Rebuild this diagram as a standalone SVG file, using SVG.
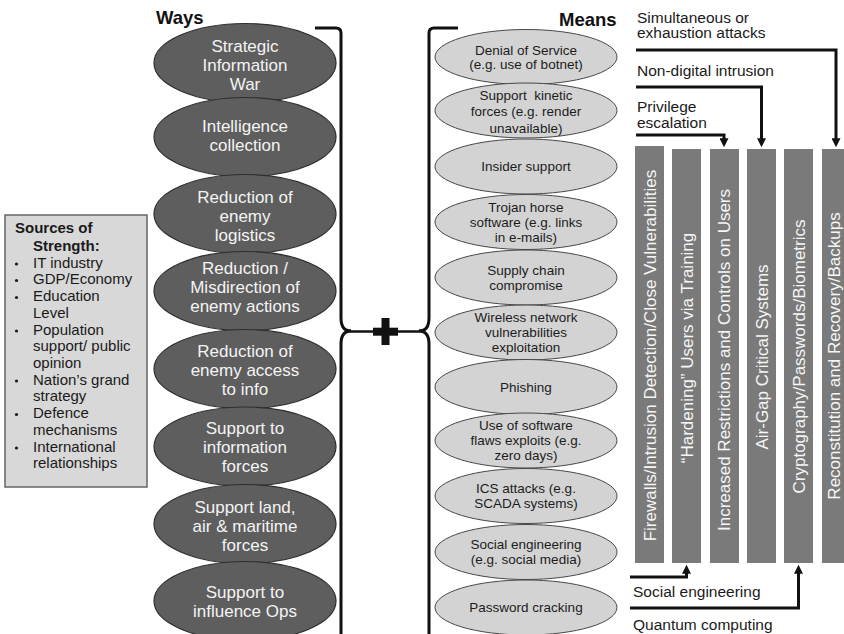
<svg xmlns="http://www.w3.org/2000/svg" width="844" height="634" viewBox="0 0 844 634">
<style>
text{font-family:'Liberation Sans',Arial,Helvetica,sans-serif}
.ttl{font-size:18.5px;font-weight:bold;fill:#111}
.way ellipse{fill:#5e5e5e;stroke:#2e2e2e;stroke-width:1.2}
.way text{font-size:17px;fill:#f4f4f4;text-anchor:middle}
.mean ellipse{fill:#d3d3d3;stroke:#484848;stroke-width:1}
.mean text{font-size:13.5px;fill:#1c1c1c;text-anchor:middle}
.bar rect{fill:#7a7a7a}
.bar text{font-size:17px;fill:#f6f6f6;text-anchor:middle}
.lbl{font-size:15.5px;fill:#1a1a1a}
.src text{font-size:15px;fill:#1a1a1a}
.brace{fill:none;stroke:#111;stroke-width:3}
.arr{fill:none;stroke:#111;stroke-width:3;marker-end:url(#ah)}
</style>
<defs>
<marker id="ah" viewBox="0 0 10 10" refX="2" refY="5" markerWidth="9" markerHeight="9" markerUnits="userSpaceOnUse" orient="auto"><path d="M0,0 L10,5 L0,10 z" fill="#111"/></marker>
</defs>
<rect width="844" height="634" fill="#fff"/>

<text class="ttl" x="156" y="24">Ways</text>
<text class="ttl" x="559" y="26">Means</text>

<g id="sources" class="src">
<rect x="5" y="215" width="142" height="272" fill="#d8d8d8" stroke="#666" stroke-width="1.5"/>
<text x="15" y="233" font-weight="bold">Sources of</text>
<text x="33" y="251" font-weight="bold">Strength:</text>
<g fill="#1a1a1a">
<circle cx="16.5" cy="264" r="1.6"/>
<circle cx="16.5" cy="280.5" r="1.6"/>
<circle cx="16.5" cy="297.5" r="1.6"/>
<circle cx="16.5" cy="331" r="1.6"/>
<circle cx="16.5" cy="381" r="1.6"/>
<circle cx="16.5" cy="414.5" r="1.6"/>
<circle cx="16.5" cy="448" r="1.6"/>
</g>
<text x="33" y="267.7">IT industry</text>
<text x="33" y="284.4">GDP/Economy</text>
<text x="33" y="301.1">Education</text>
<text x="33" y="317.8">Level</text>
<text x="33" y="334.6">Population</text>
<text x="33" y="351.3">support/ public</text>
<text x="33" y="368">opinion</text>
<text x="33" y="384.7">Nation’s grand</text>
<text x="33" y="401.4">strategy</text>
<text x="33" y="418.2">Defence</text>
<text x="33" y="434.9">mechanisms</text>
<text x="33" y="451.6">International</text>
<text x="33" y="468.3">relationships</text>
</g>

<g id="way1" class="way"><ellipse cx="245" cy="63" rx="91" ry="39.5"/><text x="245" y="52">Strategic<tspan x="245" dy="19">Information</tspan><tspan x="245" dy="19">War</tspan></text></g>
<g id="way2" class="way"><ellipse cx="245" cy="137" rx="91" ry="39.5"/><text x="245" y="131.5">Intelligence<tspan x="245" dy="19">collection</tspan></text></g>
<g id="way3" class="way"><ellipse cx="245" cy="214" rx="91" ry="39.5"/><text x="245" y="203">Reduction of<tspan x="245" dy="19">enemy</tspan><tspan x="245" dy="19">logistics</tspan></text></g>
<g id="way4" class="way"><ellipse cx="245" cy="291" rx="91" ry="39.5"/><text x="245" y="274">Reduction /<tspan x="245" dy="19">Misdirection of</tspan><tspan x="245" dy="19">enemy actions</tspan></text></g>
<g id="way5" class="way"><ellipse cx="245" cy="369" rx="91" ry="39.5"/><text x="245" y="357">Reduction of<tspan x="245" dy="19">enemy access</tspan><tspan x="245" dy="19">to info</tspan></text></g>
<g id="way6" class="way"><ellipse cx="245" cy="446.5" rx="91" ry="39.5"/><text x="245" y="434">Support to<tspan x="245" dy="19">information</tspan><tspan x="245" dy="19">forces</tspan></text></g>
<g id="way7" class="way"><ellipse cx="245" cy="524" rx="91" ry="39.5"/><text x="245" y="513">Support land,<tspan x="245" dy="19">air &amp; maritime</tspan><tspan x="245" dy="19">forces</tspan></text></g>
<g id="way8" class="way"><ellipse cx="245" cy="601" rx="91" ry="39.5"/><text x="245" y="597.5">Support to<tspan x="245" dy="19">influence Ops</tspan></text></g>

<g id="connectors">
<path class="brace" d="M315,28 H336 Q341,28 341,33 V318 Q341,331 351,331"/>
<path class="brace" d="M351,331 Q341,331 341,344 V640"/>
<path class="brace" d="M458,28 H434 Q429,28 429,33 V318 Q429,331 419,331"/>
<path class="brace" d="M419,331 Q429,331 429,344 V640"/>
<path d="M351,331.5 H419" stroke="#111" stroke-width="2.5" fill="none"/>
<path class="arr" d="M636,135 H724 V140"/>
<path class="arr" d="M636,87 H761.5 V140"/>
<path class="arr" d="M636,50 H836 V140"/>
<path class="arr" d="M630,577 H686.5 V572"/>
<path class="arr" d="M630,608 H798.5 V572"/>
</g>

<g id="plus" fill="#111">
<rect x="373" y="327.7" width="25" height="8"/>
<rect x="381.5" y="318" width="8" height="27"/>
</g>

<g id="mean1" class="mean"><ellipse cx="526" cy="57" rx="91" ry="27.5"/><text x="526" y="54.5">Denial of Service<tspan x="526" dy="14.5">(e.g. use of botnet)</tspan></text></g>
<g id="mean2" class="mean"><ellipse cx="526" cy="110.5" rx="91" ry="27.5"/><text x="526" y="99.5">Support&#160; kinetic<tspan x="526" dy="16.5">forces (e.g. render</tspan><tspan x="526" dy="16.5">unavailable)</tspan></text></g>
<g id="mean3" class="mean"><ellipse cx="526" cy="166.5" rx="91" ry="27.5"/><text x="526" y="171.3">Insider support</text></g>
<g id="mean4" class="mean"><ellipse cx="526" cy="222" rx="91" ry="27.5"/><text x="526" y="211.8">Trojan horse<tspan x="526" dy="15">software (e.g. links</tspan><tspan x="526" dy="15">in e-mails)</tspan></text></g>
<g id="mean5" class="mean"><ellipse cx="526" cy="277.5" rx="91" ry="27.5"/><text x="526" y="274.8">Supply chain<tspan x="526" dy="15">compromise</tspan></text></g>
<g id="mean6" class="mean"><ellipse cx="526" cy="332.5" rx="91" ry="27.5"/><text x="526" y="322.3">Wireless network<tspan x="526" dy="15">vulnerabilities</tspan><tspan x="526" dy="15">exploitation</tspan></text></g>
<g id="mean7" class="mean"><ellipse cx="526" cy="387" rx="91" ry="27.5"/><text x="526" y="391.8">Phishing</text></g>
<g id="mean8" class="mean"><ellipse cx="526" cy="440.5" rx="91" ry="27.5"/><text x="526" y="430.3">Use of software<tspan x="526" dy="15">flaws exploits (e.g.</tspan><tspan x="526" dy="15">zero days)</tspan></text></g>
<g id="mean9" class="mean"><ellipse cx="526" cy="496" rx="91" ry="27.5"/><text x="526" y="493.3">ICS attacks (e.g.<tspan x="526" dy="15">SCADA systems)</tspan></text></g>
<g id="mean10" class="mean"><ellipse cx="526" cy="552" rx="91" ry="27.5"/><text x="526" y="549.3">Social engineering<tspan x="526" dy="15">(e.g. social media)</tspan></text></g>
<g id="mean11" class="mean"><ellipse cx="526" cy="607.5" rx="91" ry="27.5"/><text x="526" y="612.3">Password cracking</text></g>

<g id="bar1" class="bar"><rect x="635" y="146" width="29" height="417"/><text transform="translate(656,355.5) rotate(-90)">Firewalls/Intrusion Detection/Close Vulnerabilities</text></g>
<g id="bar2" class="bar"><rect x="672" y="149" width="29" height="414"/><text transform="translate(692.5,348) rotate(-90)">“Hardening” Users via Training</text></g>
<g id="bar3" class="bar"><rect x="710" y="149" width="29" height="414"/><text transform="translate(730,360) rotate(-90)">Increased Restrictions and Controls on Users</text></g>
<g id="bar4" class="bar"><rect x="747" y="149" width="29" height="414"/><text transform="translate(767.5,357) rotate(-90)">Air-Gap Critical Systems</text></g>
<g id="bar5" class="bar"><rect x="784" y="149" width="29" height="414"/><text transform="translate(804.5,356.5) rotate(-90)">Cryptography/Passwords/Biometrics</text></g>
<g id="bar6" class="bar"><rect x="822" y="149" width="29" height="414"/><text transform="translate(840,356) rotate(-90)">Reconstitution and Recovery/Backups</text></g>

<g id="labels">
<text class="lbl" x="637" y="22.5">Simultaneous or</text>
<text class="lbl" x="637" y="38">exhaustion attacks</text>
<text class="lbl" x="637" y="76">Non-digital intrusion</text>
<text class="lbl" x="637" y="112">Privilege</text>
<text class="lbl" x="637" y="128">escalation</text>
<text class="lbl" x="633" y="597">Social engineering</text>
<text class="lbl" x="633" y="630">Quantum computing</text>
</g>
</svg>
